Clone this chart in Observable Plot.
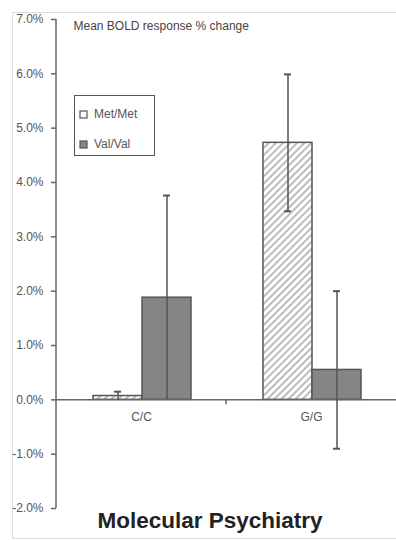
<!DOCTYPE html>
<html><head><meta charset="utf-8">
<script src="https://cdn.jsdelivr.net/npm/d3@7"></script>
<script src="https://cdn.jsdelivr.net/npm/@observablehq/plot@0.6"></script>
<style>
body{margin:0;background:#fff;}
#wrap{position:relative;width:396px;height:540px;overflow:hidden;font-family:Arial,"Liberation Sans",sans-serif;background:#fff;}
#border{position:absolute;left:12px;top:12px;width:400px;height:527px;border:1.5px solid #ddd;box-sizing:border-box;}
#chart{position:absolute;left:0;top:0;}
#legend{position:absolute;left:74px;top:95px;width:81px;height:61px;border:1.5px solid #555;box-sizing:border-box;background:#fff;font-size:12px;color:#555;}
#legend .item{position:absolute;left:4px;display:flex;align-items:center;height:14px;}
#legend svg{margin-right:6px;}
#caption{position:absolute;left:210px;top:506px;transform:translateX(-50%);font-family:Arial,"Liberation Sans",sans-serif;font-weight:bold;font-size:22.5px;line-height:30px;color:#222;white-space:nowrap;}
</style>
</head><body>
<div id="wrap">
  <div id="border"></div>
  <div id="chart"></div>
  <div id="legend"></div>
  <div id="caption"></div>
</div>
<script>
const categories = ["C/C", "G/G"];
const genotypes = ["Met/Met", "Val/Val"];
const metMean = [0.07, 4.73];
const metErr = [0.08, 1.26];
const valMean = [1.88, 0.55];
const valErr = [1.88, 1.45];
const yTicks = [-2, -1, 0, 1, 2, 3, 4, 5, 6, 7];
const title = "Mean BOLD response % change";
const caption = "Molecular Psychiatry";
const fills = ["url(#hatch)", "#858585"];

const rows = categories.flatMap((c, i) => [
  {cat: c, geno: genotypes[0], mean: metMean[i], err: metErr[i]},
  {cat: c, geno: genotypes[1], mean: valMean[i], err: valErr[i]}
]);

const plot = Plot.plot({
  width: 396, height: 540,
  marginLeft: 56, marginRight: 0, marginTop: 19, marginBottom: 32,
  style: {fontFamily: "Arial, 'Liberation Sans', sans-serif", fontSize: "12px", color: "#555", background: "transparent", overflow: "visible"},
  fx: {domain: categories, padding: 0, axis: null},
  x: {domain: genotypes, paddingInner: 0, paddingOuter: 0.717, align: 0.52, axis: null},
  y: {domain: [-2, 7], axis: null},
  color: {type: "ordinal", domain: genotypes, range: fills},
  marks: [
    Plot.barY(rows, {fx: "cat", x: "geno", y: "mean", fill: "geno", stroke: "#555", strokeWidth: 1.5}),
    Plot.ruleY([0], {stroke: "#666", strokeWidth: 1.5}),
    Plot.ruleX(rows, {fx: "cat", x: "geno", y1: d => d.mean - d.err, y2: d => d.mean + d.err, stroke: "#555", strokeWidth: 1.5}),
    Plot.tickY(rows, {fx: "cat", x: "geno", y: d => d.mean + d.err, insetLeft: 21, insetRight: 21, stroke: "#555", strokeWidth: 2}),
    Plot.tickY(rows.filter(d => d.mean - d.err < -0.1), {fx: "cat", x: "geno", y: d => d.mean - d.err, insetLeft: 21, insetRight: 21, stroke: "#555", strokeWidth: 2}),
    Plot.tickY(rows.filter(d => d.mean - d.err > 0.1), {fx: "cat", x: "geno", y: d => d.mean - d.err, insetLeft: 21, insetRight: 21, stroke: "#555", strokeWidth: 2}),
    Plot.axisY({ticks: yTicks, label: null, tickSize: 5, tickPadding: 8, tickFormat: d => d.toFixed(1) + "%", stroke: "#666", strokeWidth: 1.5, fill: "#555"}),
    Plot.text(categories, {fx: d => d, text: d => d, y: 0, dy: 17, fill: "#555", fontSize: 12}),
    Plot.text([title], {fx: () => categories[0], text: d => d, frameAnchor: "top-left", dx: 17, dy: 2, fill: "#444", fontSize: 12})
  ]
});

const svg = d3.select(plot);
const defs = svg.insert("defs", ":first-child");
const pat = defs.append("pattern").attr("id", "hatch").attr("patternUnits", "userSpaceOnUse")
  .attr("width", 5).attr("height", 5).attr("patternTransform", "rotate(45)");
pat.append("rect").attr("width", 5).attr("height", 5).attr("fill", "#fff");
pat.append("line").attr("x1", 1).attr("y1", 0).attr("x2", 1).attr("y2", 5).attr("stroke", "#999").attr("stroke-width", 1.3);

// y axis line and category boundary tick from Plot's scales
const ys = plot.scale("y");
const yScale = d3.scaleLinear().domain(ys.domain).range(ys.range);
const fxs = plot.scale("fx");
const x0 = fxs.range[0];
svg.append("line").attr("x1", x0).attr("x2", x0)
  .attr("y1", yScale(yTicks[0])).attr("y2", yScale(yTicks[yTicks.length - 1]))
  .attr("stroke", "#666").attr("stroke-width", 1.5);
categories.slice(1).forEach((c, i) => {
  const bx = x0 + fxs.step * (i + 1);
  svg.append("line").attr("x1", bx).attr("x2", bx)
    .attr("y1", yScale(0)).attr("y2", yScale(0) + 5)
    .attr("stroke", "#666").attr("stroke-width", 1.5);
});

document.getElementById("chart").appendChild(plot);

// legend
const legend = d3.select("#legend");
genotypes.forEach((g, i) => {
  const item = legend.append("div").attr("class", "item").style("top", (i === 0 ? 11 : 41) + "px");
  const sw = item.append("svg").attr("width", 9).attr("height", 9);
  sw.append("rect").attr("x", 1).attr("y", 1).attr("width", 7).attr("height", 7)
    .attr("fill", i === 0 ? "#fff" : fills[1]).attr("stroke", "#555").attr("stroke-width", 1.2);
  item.append("span").text(g);
});

document.getElementById("caption").textContent = caption;
</script>
</body></html>
